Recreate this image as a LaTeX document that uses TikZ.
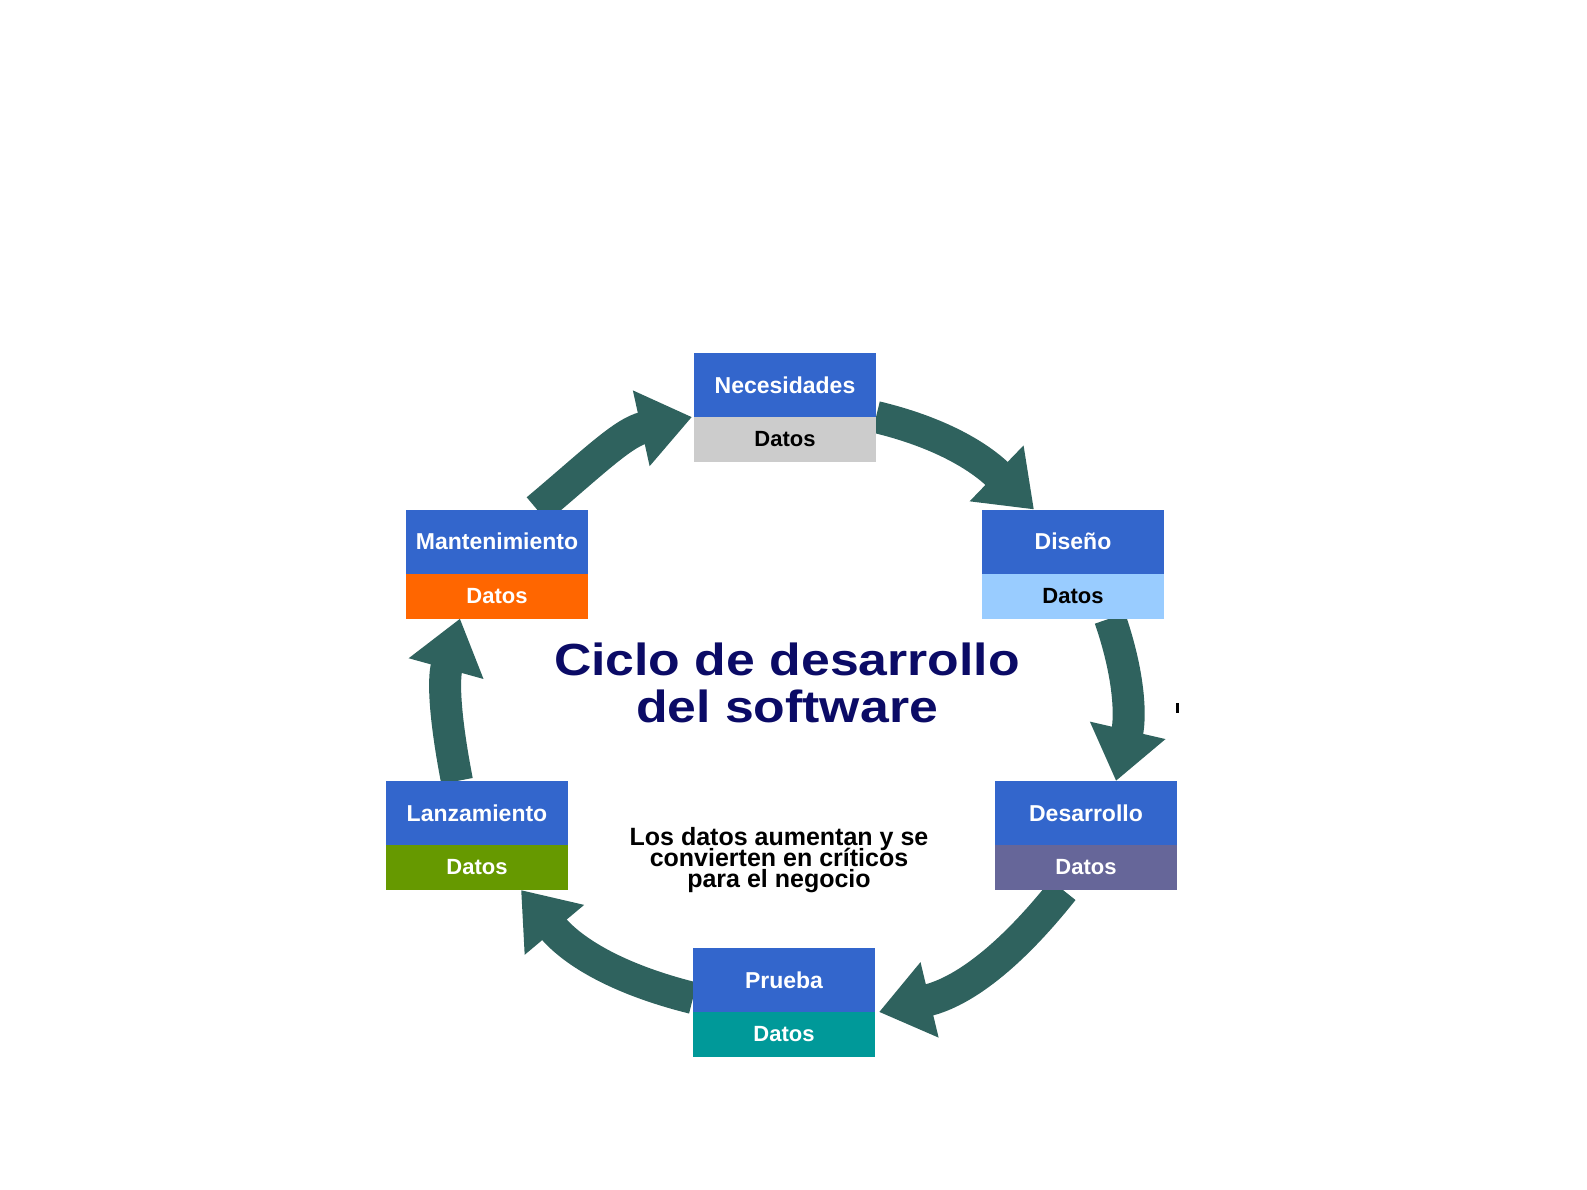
\documentclass[tikz,border=0pt]{standalone}
\usepackage{fontspec}
\setmainfont{Liberation Sans}
\newfontfamily\widefont{Liberation Sans}[FakeStretch=1.15]
\usepackage{xcolor}
\usepackage{tikz}
\usetikzlibrary{arrows.meta, positioning, backgrounds}

\definecolor{stageblue}{HTML}{3366CC}
\definecolor{cyclegreen}{HTML}{2F625E}
\definecolor{titlenavy}{HTML}{0B0B66}
\definecolor{datgrey}{HTML}{CCCCCC}
\definecolor{datsky}{HTML}{99CCFF}
\definecolor{datslate}{HTML}{666699}
\definecolor{datteal}{HTML}{009999}
\definecolor{datolive}{HTML}{669900}
\definecolor{datorange}{HTML}{FF6600}

\newcommand\tightlines{\lineskiplimit=-50pt\relax}

\begin{document}
\begin{tikzpicture}[
  x=0.5pt, y=0.5pt,
  >={Triangle[length=26pt, width=37pt]},
  node distance=0pt,
  stage/.style={fill=stageblue, text=white, font=\bfseries\fontsize{11.5}{13}\selectfont,
    minimum width=91pt, minimum height=32pt, inner sep=0pt, outer sep=0pt},
  datos/.style={fill=#1, text=white, font=\bfseries\fontsize{11}{13}\selectfont,
    minimum width=91pt, minimum height=22.5pt, inner sep=0pt, outer sep=0pt},
  cycle/.style={->, draw=cyclegreen, line width=16pt}
]
\useasboundingbox (0,0) rectangle (1587,-1190);

% stages
\node[stage] (nec) at (785,-385) {Necesidades};
\node[datos=datgrey, text=black, below=of nec] (necd) {Datos};
\node[stage] (dis) at (1073,-541.5) {Diseño};
\node[datos=datsky, text=black, below=of dis] (disd) {Datos};
\node[stage] (des) at (1086,-813) {Desarrollo};
\node[datos=datslate, below=of des] (desd) {Datos};
\node[stage] (pru) at (784,-980) {Prueba};
\node[datos=datteal, below=of pru] (prud) {Datos};
\node[stage] (lan) at (477,-813) {Lanzamiento};
\node[datos=datolive, below=of lan] (land) {Datos};
\node[stage] (man) at (497,-541.5) {Mantenimiento};
\node[datos=datorange, below=of man] (mand) {Datos};

% texts in the middle
\node[text=titlenavy, align=center, font=\widefont\bfseries\fontsize{22.5}{23.5}\selectfont]
  (title) at (787,-683) {Ciclo de desarrollo\\del software};
\node[align=center, font=\bfseries\fontsize{12.5}{10.4}\selectfont\tightlines]
  (note) at (779,-860) {Los datos aumentan y se\\convierten en críticos\\para el negocio};

% cycle arrows
\begin{scope}[on background layer]
\draw[cycle] (nec.south east) to[out=-13.5, in=136] ([xshift=-19.5pt]dis.north);
\draw[cycle] ([xshift=18.5pt]disd.south) to[out=-71, in=77] ([xshift=15pt]des.north);
\draw[cycle] ([xshift=-11.5pt]desd.south) to[out=-128.5, in=13.5] ([xshift=2pt]pru.south east);
\draw[cycle] ([yshift=7pt]pru.south west) to[out=166, in=-50] ([xshift=22pt]land.south);
\draw[cycle] ([xshift=-10pt]lan.north) to[out=101, in=-105.5] ([xshift=-18.5pt]mand.south);
\draw[cycle] ([xshift=20pt]man.north) to[out=40, in=192.5] ([xshift=-1pt]nec.south west);
\end{scope}

\fill (1176,-703) rectangle (1179,-713);
\end{tikzpicture}
\end{document}
